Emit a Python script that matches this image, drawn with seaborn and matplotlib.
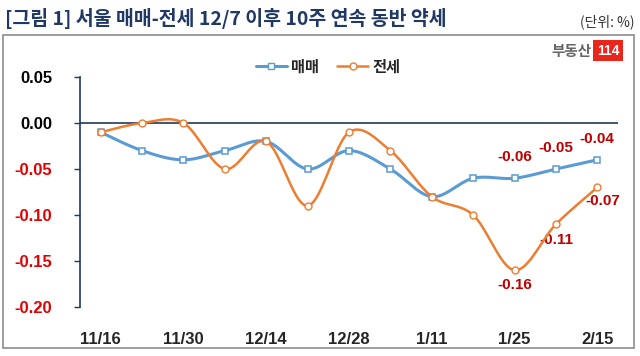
import numpy as np
import seaborn as sns
import matplotlib.pyplot as plt
from matplotlib.lines import Line2D
from matplotlib.patches import Rectangle

# 주간 변동률 (%)
dates = ['11/16', '11/23', '11/30', '12/7', '12/14', '12/21', '12/28',
         '1/4', '1/11', '1/18', '1/25', '2/1', '2/15']
sale = [-0.01, -0.03, -0.04, -0.03, -0.02, -0.05, -0.03,
        -0.05, -0.08, -0.06, -0.06, -0.05, -0.04]
jeonse = [-0.01, 0.00, 0.00, -0.05, -0.02, -0.09, -0.01,
          -0.03, -0.08, -0.10, -0.16, -0.11, -0.07]
yticks = [0.05, 0.00, -0.05, -0.10, -0.15, -0.20]

BLUE = '#5B9BD5'
ORANGE = '#ED7D31'
NAVY = '#1F3864'


def smooth(y, n=20):
    # 엑셀 '곡선으로 표시' 비슷하게 (Catmull-Rom 베지어)
    x = np.arange(len(y), dtype=float)
    y = np.asarray(y, dtype=float)
    px = np.r_[x[0], x, x[-1]]
    py = np.r_[y[0], y, y[-1]]
    xs, ys = [], []
    t = np.linspace(0, 1, n)
    for i in range(len(y) - 1):
        p0 = np.array([px[i + 1], py[i + 1]])
        p3 = np.array([px[i + 2], py[i + 2]])
        p1 = p0 + (p3 - np.array([px[i], py[i]])) / 6
        p2 = p3 - (np.array([px[i + 3], py[i + 3]]) - p0) / 6
        b = ((1 - t) ** 3)[:, None] * p0 + (3 * (1 - t) ** 2 * t)[:, None] * p1 \
            + (3 * (1 - t) * t ** 2)[:, None] * p2 + (t ** 3)[:, None] * p3
        xs.extend(b[:, 0])
        ys.extend(b[:, 1])
    return np.array(xs), np.array(ys)


sns.set_theme(style='white')
plt.rcParams['font.family'] = ['Noto Sans CJK KR', 'DejaVu Sans']
NUM = ['Liberation Sans Narrow', 'Liberation Sans', 'DejaVu Sans']

fig = plt.figure(figsize=(6.4, 3.56), dpi=100)
ax = fig.add_axes([0.125, 0.1376, 0.8406, 0.646])

idx = np.arange(len(dates))
sx, sy = smooth(sale)
jx, jy = smooth(jeonse)
sns.lineplot(x=sx, y=sy, ax=ax, color=BLUE, lw=2.2, sort=False, zorder=3)
sns.lineplot(x=idx, y=sale, ax=ax, color=BLUE, lw=0, marker='s', markersize=5,
             markerfacecolor='white', markeredgecolor=BLUE, markeredgewidth=1.1, zorder=4)
sns.lineplot(x=jx, y=jy, ax=ax, color=ORANGE, lw=1.8, sort=False, zorder=5)
sns.lineplot(x=idx, y=jeonse, ax=ax, color=ORANGE, lw=0, marker='o', markersize=5,
             markerfacecolor='white', markeredgecolor=ORANGE, markeredgewidth=1.0, zorder=6)

ax.axhline(0, color=NAVY, lw=1.2, zorder=2)

ax.set_xlim(-0.5, len(dates) - 0.5)
ax.set_ylim(-0.20, 0.05)
ax.set_xticks(idx[::2])
ax.set_xticklabels(dates[::2], family=NUM, fontsize=12, fontweight='bold')
ax.set_yticks(yticks)
ax.set_yticklabels([f'{v:.2f}' for v in yticks], family=NUM, fontsize=12, fontweight='bold')
for lab, v in zip(ax.get_yticklabels(), yticks):
    lab.set_color('#E00000' if v < 0 else 'black')
ax.tick_params(axis='y', left=True, length=4, width=1, color=NAVY, pad=16)
ax.tick_params(axis='x', bottom=False, pad=12)
for s in ['top', 'right', 'bottom']:
    ax.spines[s].set_visible(False)
ax.spines['left'].set_color(NAVY)
ax.spines['left'].set_linewidth(1.2)
ax.set_xlabel('')
ax.set_ylabel('')

# 데이터 레이블 (최근 3주)
for i in range(len(dates) - 3, len(dates)):
    ax.annotate(f'{sale[i]:.2f}', (i, sale[i]), xytext=(0, 15), textcoords='offset points',
                ha='center', va='center', color='#C00000', family=NUM,
                fontsize=11, fontweight='bold')
    off = (4, -10) if i == len(dates) - 1 else (0, -11)
    ax.annotate(f'{jeonse[i]:.2f}', (i, jeonse[i]), xytext=off, textcoords='offset points',
                ha='center', va='center', color='#C00000', family=NUM,
                fontsize=11, fontweight='bold')

handles = [
    Line2D([], [], color=BLUE, lw=2.2, marker='s', markersize=5,
           markerfacecolor='white', markeredgecolor=BLUE),
    Line2D([], [], color=ORANGE, lw=1.8, marker='o', markersize=5,
           markerfacecolor='white', markeredgecolor=ORANGE),
]
fig.legend(handles, ['매매', '전세'], loc='center', bbox_to_anchor=(0.513, 0.814),
           ncol=2, frameon=False, handlelength=2.0, handletextpad=0.3, columnspacing=1.2,
           prop={'family': 'Noto Sans CJK KR', 'weight': 'bold', 'size': 11})

# 제목, 단위
fig.text(0.008, 0.949, '[그림 1] 서울 매매-전세 12/7 이후 10주 연속 동반 약세',
         color=NAVY, fontsize=14, fontweight='bold', ha='left', va='center')
fig.text(0.992, 0.940, '(단위: %)', color='#333333', fontsize=10, ha='right', va='center')

# 테두리
fig.add_artist(Rectangle((0.005, 0.022), 0.985, 0.880, transform=fig.transFigure,
                         fill=False, edgecolor='#8C8C8C', lw=1.2))

# 로고
fig.text(0.925, 0.857, '부동산', color='#666666', fontsize=10.5, fontweight='bold',
         ha='right', va='center')
fig.text(0.950, 0.857, '114', color='white', fontsize=10, fontweight='bold',
         ha='center', va='center', family=NUM,
         bbox=dict(boxstyle='square,pad=0.25', facecolor='#E8261C', edgecolor='none'))

fig.savefig('out.png', dpi=100)
